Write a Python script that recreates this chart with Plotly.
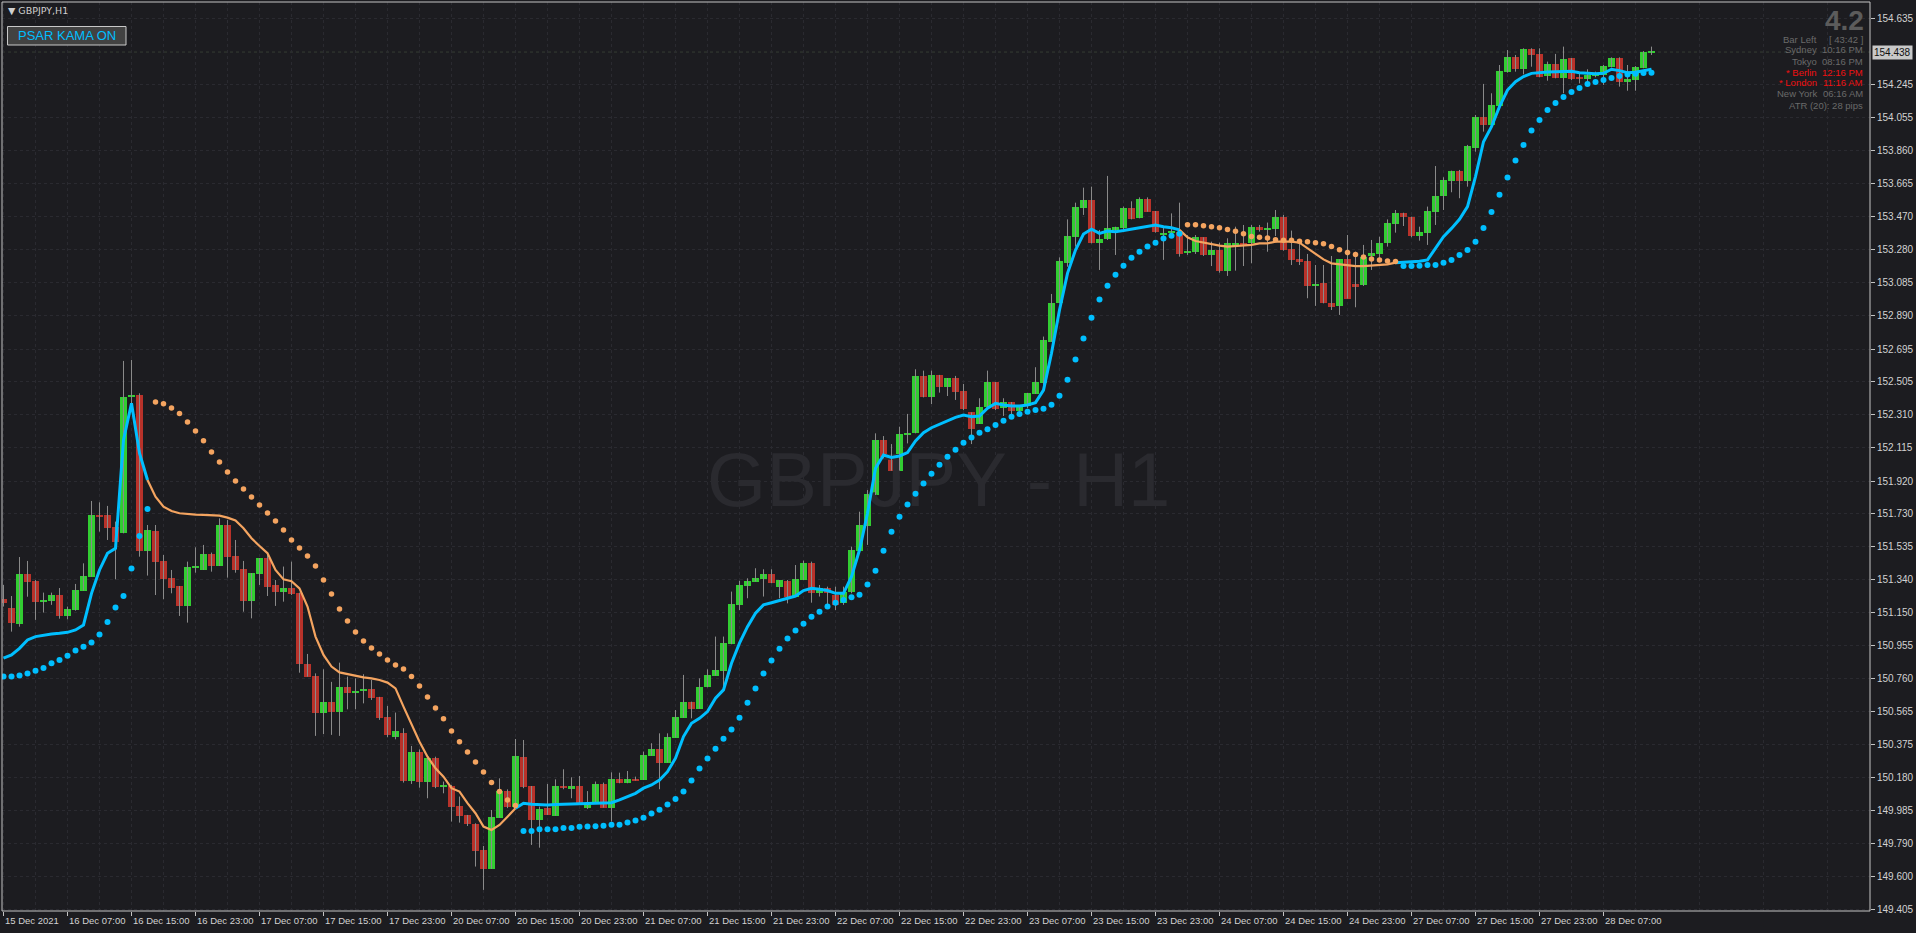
import plotly.graph_objects as go

# ---------------- data ----------------
bar_open = [151.228,151.177,151.083,151.375,151.333,151.212,151.216,151.251,151.128,151.163,
 151.277,151.359,151.721,151.721,151.652,151.613,152.415,152.425,151.511,151.627,
 151.451,151.351,151.304,151.189,151.410,151.398,151.492,151.421,151.662,151.480,
 151.404,151.216,151.375,151.468,151.310,151.271,151.292,151.265,150.846,150.776,
 150.557,150.623,150.567,150.711,150.678,150.690,150.700,150.653,150.535,150.420,
 150.439,150.161,150.332,150.156,150.293,150.126,150.130,150.013,149.960,149.907,
 149.755,149.643,149.944,150.101,150.009,150.302,150.130,149.931,150.003,149.956,
 150.130,150.115,150.130,150.003,150.029,150.142,150.003,150.171,150.146,150.171,
 150.165,150.308,150.347,150.267,150.414,150.531,150.625,150.584,150.709,150.778,
 150.805,150.962,151.193,151.304,151.330,151.347,151.375,151.300,151.334,151.242,
 151.339,151.441,151.265,151.290,151.251,151.202,151.271,151.511,151.656,151.838,
 152.161,152.063,151.981,152.194,152.200,152.537,152.415,152.543,152.474,152.525,
 152.449,152.323,152.255,152.353,152.501,152.347,152.384,152.333,152.363,152.431,
 152.497,152.738,152.963,153.202,153.354,153.525,153.570,153.319,153.339,153.398,
 153.403,153.523,153.462,153.576,153.505,153.362,153.374,153.384,153.257,153.266,
 153.351,153.247,153.276,153.155,153.300,153.315,153.315,153.409,153.399,153.399,
 153.468,153.282,153.221,153.212,153.065,153.084,152.963,152.948,153.221,153.077,
 153.071,153.243,153.253,153.319,153.429,153.495,153.468,153.358,153.378,153.501,
 153.593,153.683,153.742,153.683,153.877,154.055,154.010,154.121,154.323,154.411,
 154.339,154.456,154.427,154.299,154.368,154.288,154.403,154.288,154.280,154.303,
 154.303,154.352,154.401,154.264,154.274,154.346,154.434]
bar_high = [151.310,151.245,151.474,151.451,151.339,151.265,151.265,151.292,151.183,151.316,
 151.437,151.803,151.795,151.774,151.682,152.625,152.631,152.435,151.662,151.662,
 151.486,151.398,151.304,151.447,151.531,151.545,151.500,151.701,151.691,151.574,
 151.451,151.380,151.468,151.496,151.339,151.418,151.447,151.265,150.905,150.791,
 150.815,150.741,150.854,150.772,150.762,150.786,150.752,150.653,150.600,150.561,
 150.469,150.365,150.345,150.302,150.302,150.156,150.136,150.068,149.960,149.911,
 149.778,149.989,150.175,150.110,150.406,150.400,150.130,150.009,150.142,150.169,
 150.228,150.181,150.189,150.100,150.156,150.150,150.210,150.208,150.218,150.185,
 150.332,150.381,150.439,150.439,150.576,150.782,150.625,150.762,150.815,151.007,
 151.007,151.271,151.334,151.349,151.408,151.402,151.402,151.339,151.339,151.427,
 151.453,151.447,151.310,151.300,151.300,151.300,151.535,151.740,151.867,152.200,
 152.184,152.137,152.239,152.314,152.576,152.568,152.568,152.543,152.525,152.537,
 152.490,152.323,152.406,152.568,152.501,152.406,152.384,152.366,152.437,152.588,
 152.768,153.018,153.233,153.456,153.554,153.642,153.648,153.394,153.711,153.413,
 153.531,153.562,153.585,153.585,153.505,153.413,153.491,153.554,153.364,153.364,
 153.351,153.325,153.319,153.345,153.413,153.423,153.423,153.423,153.437,153.511,
 153.482,153.390,153.315,153.253,153.188,153.188,153.241,153.221,153.364,153.266,
 153.306,153.335,153.354,153.456,153.511,153.495,153.472,153.413,153.531,153.769,
 153.703,153.742,153.746,153.893,154.069,154.251,154.196,154.362,154.450,154.421,
 154.460,154.460,154.460,154.382,154.427,154.470,154.403,154.317,154.337,154.323,
 154.362,154.407,154.407,154.362,154.356,154.444,154.470]
bar_low = [151.183,151.036,151.065,151.241,151.105,151.148,151.193,151.112,151.108,151.159,
 151.277,151.359,151.623,151.574,151.343,151.613,152.357,151.476,151.365,151.251,
 151.226,151.261,151.128,151.089,151.382,151.398,151.388,151.421,151.353,151.382,
 151.153,151.114,151.310,151.245,151.187,151.212,151.251,150.795,150.772,150.424,
 150.435,150.430,150.424,150.580,150.580,150.615,150.635,150.518,150.416,150.404,
 150.150,150.142,150.120,150.058,150.117,150.087,149.921,149.915,149.895,149.657,
 149.520,149.643,149.944,150.000,150.009,150.117,149.784,149.768,149.960,149.956,
 150.111,150.058,150.029,149.995,150.029,150.003,149.921,150.146,150.146,150.162,
 150.165,150.308,150.111,150.267,150.414,150.531,150.527,150.584,150.709,150.778,
 150.694,150.962,151.163,151.232,151.330,151.242,151.320,151.232,151.202,151.242,
 151.339,151.206,151.242,151.193,151.163,151.193,151.261,151.511,151.545,151.838,
 152.053,151.981,151.981,152.141,152.200,152.411,152.372,152.439,152.419,152.396,
 152.337,152.137,152.255,152.353,152.337,152.302,152.308,152.308,152.347,152.431,
 152.454,152.738,152.963,153.178,153.296,153.482,153.315,153.159,153.335,153.247,
 153.394,153.456,153.462,153.501,153.378,153.218,153.370,153.237,153.247,153.253,
 153.241,153.182,153.143,153.124,153.155,153.182,153.198,153.384,153.266,153.358,
 153.272,153.188,153.188,152.993,152.948,152.963,152.924,152.895,152.991,152.940,
 153.065,153.159,153.218,153.296,153.378,153.417,153.351,153.331,153.306,153.423,
 153.511,153.615,153.580,153.648,153.853,153.971,154.010,154.098,154.317,154.323,
 154.307,154.352,154.290,154.270,154.284,154.196,154.274,154.254,154.245,154.290,
 154.245,154.348,154.235,154.211,154.211,154.343,154.421]
bar_close = [151.204,151.089,151.375,151.330,151.212,151.222,151.251,151.128,151.169,151.281,
 151.363,151.721,151.711,151.647,151.564,152.413,152.423,151.511,151.633,151.447,
 151.345,151.294,151.189,151.414,151.421,151.492,151.421,151.662,151.476,151.398,
 151.216,151.380,151.468,151.300,151.271,151.292,151.257,150.844,150.772,150.561,
 150.623,150.567,150.711,150.678,150.688,150.700,150.649,150.531,150.430,150.453,
 150.161,150.328,150.156,150.293,150.126,150.136,150.009,149.956,149.907,149.751,
 149.643,149.946,150.103,150.009,150.306,150.126,149.931,149.993,149.960,150.130,
 150.117,150.130,150.029,150.019,150.142,150.003,150.171,150.150,150.171,150.162,
 150.312,150.347,150.267,150.420,150.537,150.625,150.580,150.713,150.782,150.811,
 150.968,151.198,151.310,151.334,151.353,151.375,151.324,151.339,151.242,151.345,
 151.441,151.265,151.290,151.261,151.193,151.271,151.515,151.662,151.844,152.161,
 152.059,151.981,152.196,152.204,152.537,152.415,152.543,152.474,152.525,152.445,
 152.343,152.224,152.353,152.501,152.343,152.384,152.333,152.366,152.437,152.501,
 152.748,152.963,153.212,153.358,153.529,153.570,153.319,153.341,153.403,153.409,
 153.523,153.460,153.576,153.501,153.384,153.374,153.388,153.253,153.270,153.351,
 153.247,153.276,153.155,153.315,153.315,153.300,153.409,153.399,153.405,153.468,
 153.276,153.218,153.208,153.065,153.077,152.967,152.944,153.221,152.991,153.061,
 153.237,153.257,153.319,153.437,153.495,153.468,153.358,153.384,153.507,153.595,
 153.687,153.742,153.683,153.887,154.055,154.010,154.127,154.327,154.411,154.339,
 154.456,154.421,154.294,154.368,154.288,154.397,154.280,154.280,154.303,154.313,
 154.356,154.401,154.264,154.280,154.348,154.436,154.438]

kama = [150.880,150.899,150.938,150.987,151.007,151.016,151.022,151.026,151.032,151.046,
 151.075,151.261,151.398,151.496,151.525,152.161,152.376,152.083,151.926,151.828,
 151.770,151.744,151.731,151.725,151.723,151.721,151.719,151.717,151.705,151.688,
 151.643,151.584,151.539,151.496,151.398,151.343,151.332,151.290,151.183,151.007,
 150.899,150.831,150.797,150.786,150.776,150.768,150.762,150.752,150.737,150.703,
 150.596,150.488,150.390,150.302,150.234,150.185,150.117,150.097,150.029,149.970,
 149.892,149.872,149.901,149.950,149.999,150.029,150.023,150.019,150.019,150.021,
 150.023,150.025,150.026,150.027,150.028,150.029,150.032,150.048,150.068,150.087,
 150.117,150.136,150.165,150.214,150.293,150.420,150.498,150.527,150.567,150.645,
 150.694,150.850,150.968,151.065,151.144,151.193,151.206,151.218,151.232,151.245,
 151.277,151.290,151.285,151.277,151.261,151.261,151.359,151.515,151.731,151.995,
 152.073,152.059,152.067,152.087,152.155,152.204,152.233,152.253,152.272,152.294,
 152.308,152.298,152.302,152.347,152.376,152.366,152.361,152.361,152.366,152.380,
 152.454,152.670,152.924,153.139,153.276,153.370,153.398,153.374,153.388,153.384,
 153.390,153.398,153.405,153.417,153.423,153.413,153.407,153.394,153.351,153.329,
 153.319,153.309,153.302,153.296,153.300,153.302,153.306,153.315,153.315,153.325,
 153.325,153.325,153.319,153.286,153.253,153.221,153.198,153.192,153.186,153.182,
 153.182,153.186,153.188,153.192,153.202,153.204,153.206,153.210,153.218,153.286,
 153.354,153.403,153.456,153.531,153.707,153.912,154.000,154.118,154.215,154.264,
 154.294,154.313,154.319,154.321,154.323,154.325,154.325,154.317,154.313,154.311,
 154.313,154.337,154.329,154.317,154.319,154.329,154.337]
# (first bar, last bar, trend) of each coloured KAMA stretch
kama_runs = [(0, 18, "up"), (18, 64, "down"), (64, 147, "up"), (147, 174, "down"), (174, 206, "up")]

psar = [150.772,150.772,150.778,150.791,150.807,150.823,150.850,150.870,150.895,150.925,
 150.948,150.972,151.019,151.093,151.177,151.245,151.406,151.598,151.756,152.384,
 152.374,152.349,152.316,152.267,152.214,152.157,152.091,152.032,151.973,151.920,
 151.873,151.826,151.780,151.733,151.686,151.633,151.574,151.527,151.480,151.421,
 151.339,151.257,151.169,151.099,151.034,150.981,150.940,150.905,150.870,150.840,
 150.817,150.772,150.717,150.653,150.588,150.524,150.453,150.389,150.330,150.271,
 150.212,150.150,150.097,150.048,150.015,149.866,149.866,149.876,149.876,149.876,
 149.884,149.884,149.890,149.892,149.894,149.896,149.903,149.903,149.915,149.927,
 149.944,149.968,149.991,150.021,150.054,150.097,150.162,150.232,150.291,150.349,
 150.408,150.461,150.531,150.619,150.702,150.790,150.866,150.936,150.995,151.042,
 151.083,151.124,151.153,151.183,151.206,151.222,151.238,151.253,151.312,151.394,
 151.511,151.623,151.711,151.783,151.846,151.905,151.963,152.016,152.063,152.104,
 152.145,152.175,152.204,152.224,152.249,152.274,152.298,152.314,152.327,152.337,
 152.345,152.368,152.421,152.515,152.633,152.756,152.879,152.985,153.067,153.131,
 153.184,153.231,153.266,153.296,153.319,153.343,153.360,153.372,153.425,153.425,
 153.419,153.413,153.407,153.396,153.386,153.372,153.356,153.351,153.347,153.337,
 153.333,153.333,153.327,153.325,153.319,153.313,153.296,153.278,153.261,153.249,
 153.235,153.223,153.218,153.212,153.208,153.182,153.182,153.184,153.188,153.188,
 153.202,153.218,153.247,153.276,153.325,153.405,153.499,153.601,153.701,153.801,
 153.893,153.977,154.039,154.098,154.139,154.174,154.204,154.227,154.251,154.262,
 154.274,154.286,154.297,154.307,154.311,154.315,154.317]
psar_runs = [(0, 18, "up"), (19, 64, "down"), (65, 147, "up"), (148, 174, "down"), (175, 206, "up")]

date_label_bars = [0, 8, 16, 24, 32, 40, 48, 56, 64, 72, 80, 88, 96, 104, 112, 120, 128,
                   136, 144, 152, 160, 168, 176, 184, 192, 200]
date_labels = ["15 Dec 2021", "16 Dec 07:00", "16 Dec 15:00", "16 Dec 23:00", "17 Dec 07:00",
               "17 Dec 15:00", "17 Dec 23:00", "20 Dec 07:00", "20 Dec 15:00", "20 Dec 23:00",
               "21 Dec 07:00", "21 Dec 15:00", "21 Dec 23:00", "22 Dec 07:00", "22 Dec 15:00",
               "22 Dec 23:00", "23 Dec 07:00", "23 Dec 15:00", "23 Dec 23:00", "24 Dec 07:00",
               "24 Dec 15:00", "24 Dec 23:00", "27 Dec 07:00", "27 Dec 15:00", "27 Dec 23:00",
               "28 Dec 07:00"]
price_ticks = [154.635, 154.245, 154.055, 153.860, 153.665, 153.470, 153.280, 153.085,
               152.890, 152.695, 152.505, 152.310, 152.115, 151.920, 151.730, 151.535,
               151.340, 151.150, 150.955, 150.760, 150.565, 150.375, 150.180, 149.985,
               149.790, 149.600, 149.405]
current_price = 154.438
symbol_text = "GBPJPY,H1"
watermark_text = "GBPJPY - H1"
button_text = "PSAR KAMA ON"
version_text = "4.2"
info_rows = [("Bar Left", "[ 43:42 ]", "grey"), ("Sydney", "10:16 PM", "grey"),
             ("Tokyo", "08:16 PM", "grey"), ("* Berlin", "12:16 PM", "red"),
             ("* London", "11:16 AM", "red"), ("New York", "06:16 AM", "grey")]
atr_text = "ATR (20): 28 pips"

# ---------------- style ----------------
W, H = 1916, 933
ML, MR, MT, MB = 2, 46, 2, 22
PW, PH = W - ML - MR, H - MT - MB
BG = "#1c1c20"
GRID = "#2a2a30"
UP_C = "#32cd32"
DN_C = "#b8322a"
WICK_C = "#8a8a8a"
BLUE = "#00bfff"
ORANGE = "#f4a460"
AXIS_TXT = "#d2d2d2"
BAR_SPACING_PX = 8.0
FIRST_BAR_PX = 3.5
SANS = "Liberation Sans, Arial, sans-serif"


def px_x(px):
    return (px - ML) / PW


def px_y(py):
    return 1 - (py - MT) / PH


n = len(bar_open)
idx = list(range(n))
fig = go.Figure()

# watermark behind everything
fig.add_trace(go.Scatter(x=[116.9], y=[151.885], mode="text", text=[watermark_text],
                         textfont=dict(size=76, color="#2a2a2f", family=SANS),
                         hoverinfo="skip", showlegend=False))

# wicks
wx, wy = [], []
for i in idx:
    wx += [i, i, None]
    wy += [bar_low[i], bar_high[i], None]
fig.add_trace(go.Scatter(x=wx, y=wy, mode="lines", line=dict(color=WICK_C, width=1),
                         hoverinfo="skip", showlegend=False))

# bodies
min_body = 0.0065
for up, col in ((True, UP_C), (False, DN_C)):
    xs, base, hgt = [], [], []
    for i in idx:
        is_up = bar_close[i] >= bar_open[i]
        if is_up != up:
            continue
        lo = min(bar_open[i], bar_close[i])
        hi = max(bar_open[i], bar_close[i])
        h = max(hi - lo, min_body)
        xs.append(i)
        base.append(lo if hi - lo >= min_body else (lo + hi) / 2 - min_body / 2)
        hgt.append(h)
    fig.add_trace(go.Bar(x=xs, y=hgt, base=base, width=0.85, marker=dict(color=col, line=dict(width=0)),
                         hoverinfo="skip", showlegend=False))

# KAMA line
for a, b, tr in kama_runs:
    fig.add_trace(go.Scatter(x=idx[a:b + 1], y=kama[a:b + 1], mode="lines",
                             line=dict(color=BLUE if tr == "up" else ORANGE,
                                       width=3 if tr == "up" else 2.2),
                             hoverinfo="skip", showlegend=False))

# PSAR dots
for a, b, tr in psar_runs:
    fig.add_trace(go.Scatter(x=idx[a:b + 1], y=psar[a:b + 1], mode="markers",
                             marker=dict(color=BLUE if tr == "up" else ORANGE,
                                         size=6 if tr == "up" else 5.5, line=dict(width=0)),
                             hoverinfo="skip", showlegend=False))

x_lo = (ML - FIRST_BAR_PX) / BAR_SPACING_PX
x_hi = (ML + PW - FIRST_BAR_PX) / BAR_SPACING_PX
py_top_price = price_ticks[0] + (18.5 - MT) / 170.37
py_bot_price = price_ticks[-1] - (MT + PH - 909.5) / 170.37

annotations = []
for b, t in zip(date_label_bars, date_labels):
    annotations.append(dict(x=b, y=0, xref="x", yref="paper", text=t, showarrow=False,
                            xanchor="left", yanchor="top", xshift=-1, yshift=-2,
                            font=dict(size=9.5, color=AXIS_TXT, family=SANS)))
# current price box
annotations.append(dict(x=1, xref="paper", y=current_price, yref="y", text=f"{current_price:.3f}",
                        showarrow=False, xanchor="left", yanchor="middle", xshift=2,
                        bgcolor="#c8c8c8", borderpad=1,
                        font=dict(size=10, color="#111111", family=SANS)))
# symbol
annotations.append(dict(x=px_x(6), y=px_y(10.7), xref="paper", yref="paper", text="▼ " + symbol_text,
                        showarrow=False, xanchor="left", yanchor="middle",
                        font=dict(size=9.5, color="#d0d0d0", family="DejaVu Sans")))
# button text
annotations.append(dict(x=px_x(66.5), y=px_y(36), xref="paper", yref="paper", text=button_text,
                        showarrow=False, xanchor="center", yanchor="middle",
                        font=dict(size=13, color=BLUE, family=SANS)))
# info panel
annotations.append(dict(x=px_x(1866), y=px_y(20), xref="paper", yref="paper", text="<b>" + version_text + "</b>",
                        showarrow=False, xanchor="right", yanchor="middle",
                        font=dict(size=28, color="#5c5c5c", family=SANS)))
row_y = [39, 50, 61, 72, 83, 93.5]
for (lab, val, c), yy in zip(info_rows, row_y):
    colr = "#6a6a6a" if c == "grey" else "#f01010"
    annotations.append(dict(x=px_x(1819), y=px_y(yy), xref="paper", yref="paper", text=lab,
                            showarrow=False, xanchor="right", yanchor="middle",
                            font=dict(size=9.5, color=colr, family=SANS)))
    annotations.append(dict(x=px_x(1865), y=px_y(yy), xref="paper", yref="paper", text=val,
                            showarrow=False, xanchor="right", yanchor="middle",
                            font=dict(size=9.5, color=colr, family=SANS)))
annotations.append(dict(x=px_x(1865), y=px_y(105), xref="paper", yref="paper", text=atr_text,
                        showarrow=False, xanchor="right", yanchor="middle",
                        font=dict(size=9.5, color="#6a6a6a", family=SANS)))

shapes = [
    dict(type="line", xref="paper", yref="y", x0=0, x1=1, y0=current_price, y1=current_price,
         line=dict(color="#363d33", width=1, dash="dot"), layer="below"),
    dict(type="rect", xref="paper", yref="paper", x0=px_x(7.5), x1=px_x(126), y0=px_y(26.5), y1=px_y(45),
         fillcolor="#424242", line=dict(color="#c8c8c8", width=1), layer="above"),
    dict(type="rect", xref="paper", yref="paper", x0=0, x1=1, y0=0, y1=1,
         line=dict(color="#c4c4c4", width=1), layer="above"),
]

fig.update_layout(
    width=W, height=H, margin=dict(l=ML, r=MR, t=MT, b=MB, pad=0),
    paper_bgcolor=BG, plot_bgcolor=BG, barmode="overlay", bargap=0,
    showlegend=False, hovermode=False,
    annotations=annotations, shapes=shapes,
    xaxis=dict(range=[x_lo, x_hi], tickvals=date_label_bars, ticktext=[""] * len(date_label_bars),
               ticks="outside", ticklen=4, tickcolor="#c4c4c4", showticklabels=False,
               showgrid=True, gridcolor=GRID, griddash="3px,3px", gridwidth=1,
               minor=dict(tickvals=list(range(4, 234, 8)), showgrid=True, gridcolor=GRID,
                          griddash="3px,3px", ticks=""),
               zeroline=False, showline=False, fixedrange=True),
    yaxis=dict(range=[py_bot_price, py_top_price], side="right", tickvals=price_ticks,
               ticktext=[f"{v:.3f}" for v in price_ticks], ticks="outside", ticklen=4,
               tickcolor="#c4c4c4", tickfont=dict(size=10, color=AXIS_TXT, family=SANS),
               showgrid=True, gridcolor=GRID, griddash="3px,3px", gridwidth=1,
               zeroline=False, showline=False, fixedrange=True),
)

fig.write_html("out.html", config={"displayModeBar": False},
               post_script="document.body.style.margin='0';document.body.style.background='" + BG + "';")
